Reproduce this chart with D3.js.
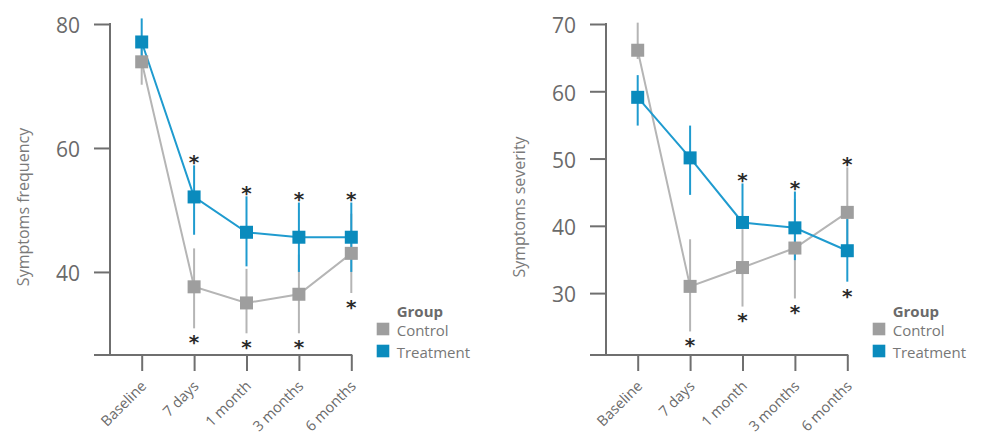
<!DOCTYPE html>
<html>
<head>
<meta charset="utf-8">
<script src="https://cdn.jsdelivr.net/npm/d3@7"></script>
<style>
  html, body { margin: 0; padding: 0; background: #ffffff; }
  svg { display: block; font-family: "Open Sans", "DejaVu Sans", sans-serif; }
</style>
</head>
<body>
<svg id="chart" width="981" height="445"></svg>
<script>
// Time points shared by both panels
const categories = ["Baseline", "7 days", "1 month", "3 months", "6 months"];
const groups = ["Control", "Treatment"];

// Symptoms frequency: means and interval ends
const freqControl   = [73.9, 37.6, 35.0, 36.4, 43.0];
const freqControlLo = [70.2, 30.9, 30.1, 30.1, 36.6];
const freqControlHi = [77.4, 43.8, 40.5, 42.8, 49.4];
const freqTreat     = [77.1, 52.1, 46.4, 45.6, 45.6];
const freqTreatLo   = [73.2, 46.0, 40.9, 40.0, 40.0];
const freqTreatHi   = [80.9, 57.2, 52.2, 51.2, 51.2];
// significance marks: "up" above the interval, "down" below it
const freqControlSig = [null, "down", "down", "down", "down"];
const freqTreatSig   = [null, "up", "up", "up", "up"];
const freqTicks = [40, 60, 80];
const freqDomain = [26.6, 80];

// Symptoms severity: means and interval ends
const sevControl   = [66.1, 31.0, 33.8, 36.7, 42.0];
const sevControlLo = [64.8, 24.3, 28.0, 29.2, 35.5];
const sevControlHi = [70.2, 38.0, 39.5, 44.0, 48.7];
const sevTreat     = [59.1, 50.1, 40.5, 39.7, 36.3];
const sevTreatLo   = [54.9, 44.6, 39.8, 34.9, 31.7];
const sevTreatHi   = [62.4, 54.9, 46.3, 45.1, 41.0];
const sevControlSig = [null, "down", "down", "down", "up"];
const sevTreatSig   = [null, null, "up", "up", "down"];
const sevTicks = [30, 40, 50, 60, 70];
const sevDomain = [20.8, 70];

const colors = {
  Control:   { mark: "#9e9e9e", line: "#b5b5b5" },
  Treatment: { mark: "#0a8bbd", line: "#1f9bcf" }
};
const axisColor = "#6f6f6f";
const textColor = "#6a6a6a";

function build(mean, lo, hi, sig) {
  return categories.map((c, i) => ({ cat: c, v: mean[i], lo: lo[i], hi: hi[i], sig: sig[i] }));
}

const panels = [
  {
    ox: 0, title: "Symptoms frequency", domain: freqDomain, ticks: freqTicks,
    series: {
      Control: build(freqControl, freqControlLo, freqControlHi, freqControlSig),
      Treatment: build(freqTreat, freqTreatLo, freqTreatHi, freqTreatSig)
    }
  },
  {
    ox: 496, title: "Symptoms severity", domain: sevDomain, ticks: sevTicks,
    series: {
      Control: build(sevControl, sevControlLo, sevControlHi, sevControlSig),
      Treatment: build(sevTreat, sevTreatLo, sevTreatHi, sevTreatSig)
    }
  }
];

const svg = d3.select("#chart");

// panel geometry (relative to each panel origin)
const axisX = 110, plotTop = 24, plotBottom = 355, tickLen = 16;
const firstX = 141.7, lastX = 351.3;
const markSize = 13;
const starGap = 8.5;

panels.forEach(p => {
  const g = svg.append("g").attr("transform", `translate(${p.ox},0)`);

  const x = d3.scalePoint().domain(categories).range([firstX, lastX]);
  const y = d3.scaleLinear().domain(p.domain).range([plotBottom, plotTop]);

  // y axis
  const yAxis = g.append("g").attr("transform", `translate(${axisX},0)`)
    .call(d3.axisLeft(y).tickValues(p.ticks).tickSize(tickLen).tickPadding(14).tickFormat(d3.format("d")));
  yAxis.select(".domain").remove();
  yAxis.selectAll(".tick line").attr("stroke", axisColor).attr("stroke-width", 2);
  yAxis.selectAll(".tick text").attr("fill", textColor).attr("font-size", 21)
    .attr("font-family", "Open Sans, sans-serif").attr("dy", "0.42em");
  g.append("line")
    .attr("x1", axisX).attr("x2", axisX)
    .attr("y1", y(p.domain[1]) - 1).attr("y2", plotBottom)
    .attr("stroke", axisColor).attr("stroke-width", 2);

  // x axis
  const xAxis = g.append("g").attr("transform", `translate(0,${plotBottom})`)
    .call(d3.axisBottom(x).tickSize(tickLen).tickSizeOuter(0));
  xAxis.select(".domain").remove();
  xAxis.selectAll(".tick line").attr("stroke", axisColor).attr("stroke-width", 2);
  xAxis.selectAll(".tick text")
    .attr("fill", textColor).attr("font-size", 14.5)
    .attr("font-family", "Open Sans, sans-serif")
    .attr("text-anchor", "end")
    .attr("y", 0).attr("dy", 0)
    .attr("transform", `translate(5,${387 - plotBottom}) rotate(-45)`);
  g.append("line")
    .attr("x1", axisX - tickLen).attr("x2", x(categories[categories.length - 1]) + 1)
    .attr("y1", plotBottom).attr("y2", plotBottom)
    .attr("stroke", axisColor).attr("stroke-width", 2);

  // y axis title
  g.append("text")
    .attr("transform", `translate(23,207) rotate(-90)`)
    .attr("text-anchor", "middle").attr("dominant-baseline", "central")
    .attr("fill", "#7a7a7a").attr("font-size", 16)
    .text(p.title);

  // interval bars
  groups.forEach(gr => {
    g.append("g").selectAll("line").data(p.series[gr]).join("line")
      .attr("x1", d => x(d.cat)).attr("x2", d => x(d.cat))
      .attr("y1", d => y(d.hi)).attr("y2", d => y(d.lo))
      .attr("stroke", colors[gr].line).attr("stroke-width", 2);
  });

  // connecting lines
  groups.forEach(gr => {
    g.append("path").datum(p.series[gr])
      .attr("fill", "none").attr("stroke", colors[gr].line).attr("stroke-width", 2)
      .attr("d", d3.line().x(d => x(d.cat)).y(d => y(d.v)));
  });

  // square markers
  groups.forEach(gr => {
    g.append("g").selectAll("rect").data(p.series[gr]).join("rect")
      .attr("x", d => x(d.cat) - markSize / 2).attr("y", d => y(d.v) - markSize / 2)
      .attr("width", markSize).attr("height", markSize)
      .attr("fill", colors[gr].mark);
  });

  // significance asterisks
  groups.forEach(gr => {
    g.append("g").selectAll("text").data(p.series[gr].filter(d => d.sig)).join("text")
      .attr("x", d => x(d.cat))
      .attr("y", d => d.sig === "up" ? y(d.hi) - starGap : y(d.lo) + starGap)
      .attr("dy", "0.62em")
      .attr("text-anchor", "middle")
      .attr("font-family", "DejaVu Sans, sans-serif")
      .attr("font-weight", "bold")
      .attr("font-size", 20).attr("fill", "#2a2a2a")
      .text("*");
  });

  // legend
  const lg = g.append("g").attr("transform", "translate(376.7,0)");
  lg.append("text").attr("x", 20).attr("y", 311).attr("dominant-baseline", "central")
    .attr("font-size", 15).attr("font-weight", "bold").attr("fill", "#6a6a6a").text("Group");
  groups.forEach((gr, i) => {
    const cy = 329 + i * 22;
    lg.append("rect").attr("x", 0).attr("y", cy - 6.3).attr("width", 12.6).attr("height", 12.6)
      .attr("fill", colors[gr].mark);
    lg.append("text").attr("x", 20).attr("y", cy + 1).attr("dominant-baseline", "central")
      .attr("font-size", 15).attr("fill", "#777777").text(gr);
  });
});
</script>
</body>
</html>
